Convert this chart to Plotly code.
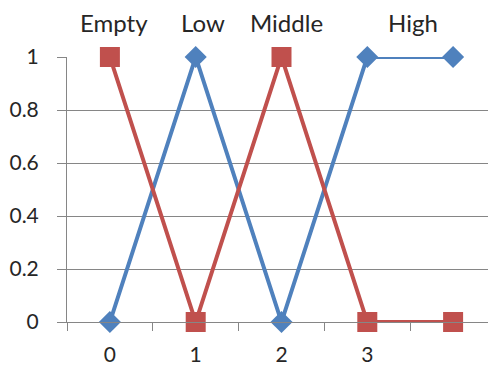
import plotly.graph_objects as go

x_vals = [0, 1, 2, 3, 4]
blue_vals = [0, 1, 0, 1, 1]
red_vals = [1, 0, 1, 0, 0]
x_tick_vals = [0, 1, 2, 3]
x_tick_text = ["0", "1", "2", "3"]
y_tick_vals = [0, 0.2, 0.4, 0.6, 0.8, 1]
y_tick_text = ["0", "0.2", "0.4", "0.6", "0.8", "1"]
level_labels = ["Empty", "Low", "Middle", "High"]
level_label_x = [0.05, 1.08, 2.06, 3.53]

BLUE = "#4F81BD"
RED = "#C0504D"
GRID = "#868686"
FONT = "Lato"
TXT = "#262626"

# page has an 8px body margin; figure sized to fill the rest
W, H = 488, 361
ML, MT, MB, MR = 59, 49, 47, 0
plot_h = H - MT - MB

fig = go.Figure()
fig.add_trace(go.Scatter(
    x=x_vals, y=blue_vals, mode="lines+markers",
    line=dict(color=BLUE, width=4),
    marker=dict(symbol="diamond", size=17, color=BLUE),
    cliponaxis=False, showlegend=False))
fig.add_trace(go.Scatter(
    x=x_vals, y=red_vals, mode="lines+markers",
    line=dict(color=RED, width=4),
    marker=dict(symbol="square", size=20, color=RED),
    cliponaxis=False, showlegend=False))

for lbl, lx in zip(level_labels, level_label_x):
    fig.add_annotation(x=lx, xref="x", y=1 + (MT - 14) / plot_h, yref="paper",
                       yanchor="middle", text=lbl, showarrow=False,
                       font=dict(family=FONT, size=24, color=TXT))

fig.update_layout(
    width=W, height=H,
    margin=dict(l=ML, r=MR, t=MT, b=MB),
    paper_bgcolor="white", plot_bgcolor="white",
    font=dict(family=FONT, size=21, color=TXT),
)

fig.update_xaxes(
    range=[-0.5, 4.5], showgrid=False, zeroline=False,
    tickmode="array", tickvals=x_tick_vals, ticktext=x_tick_text,
    ticks="", showline=True, linecolor=GRID, linewidth=1,
    minor=dict(tickmode="linear", tick0=0.5, dtick=1, ticks="outside",
               ticklen=8, tickcolor=GRID, tickwidth=1, showgrid=False),
    ticklabelstandoff=14,
    tickfont=dict(family=FONT, size=21, color=TXT),
    automargin=False,
)
fig.update_yaxes(
    range=[0, 1], showgrid=True, gridcolor=GRID, gridwidth=1,
    zeroline=False, tickmode="array", tickvals=y_tick_vals, ticktext=y_tick_text,
    ticks="outside", ticklen=9, tickcolor=GRID, tickwidth=1,
    showline=True, linecolor=GRID, linewidth=1,
    ticklabelstandoff=14,
    tickfont=dict(family=FONT, size=21, color=TXT),
    automargin=False,
)

fig.write_html("out.html")
